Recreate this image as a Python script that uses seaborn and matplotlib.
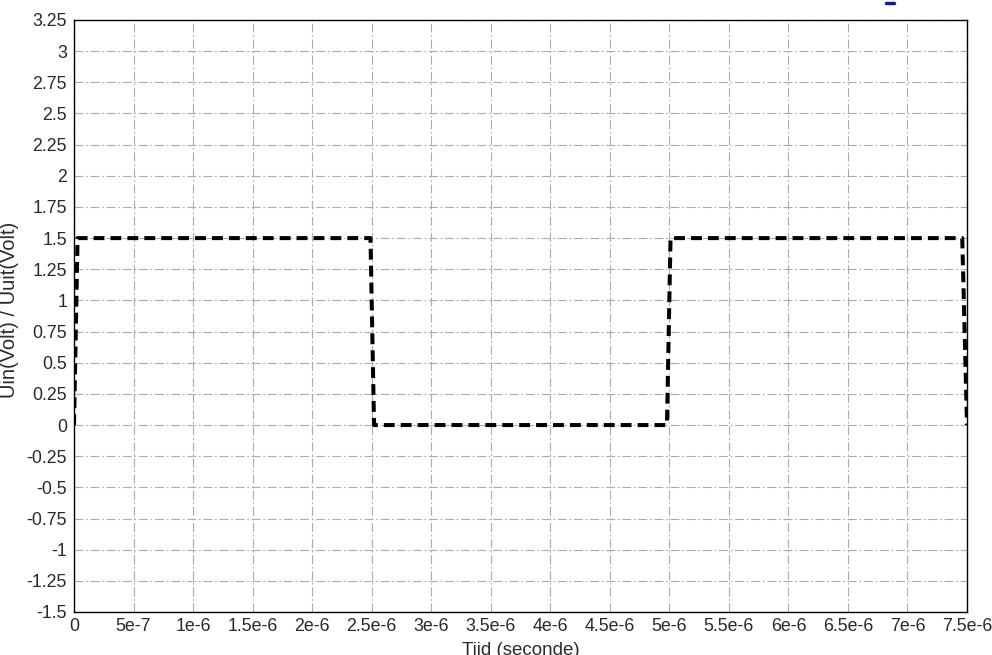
import numpy as np
import pandas as pd
import matplotlib
matplotlib.use("Agg")
import matplotlib.pyplot as plt
import seaborn as sns
from matplotlib.lines import Line2D

# square wave
tijd = [0, 0.03e-6, 2.49e-6, 2.52e-6, 4.98e-6, 5.01e-6, 7.46e-6, 7.5e-6]
spanning = [0, 1.5, 1.5, 0, 0, 1.5, 1.5, 0]

x_ticks = [0, 5e-7, 1e-6, 1.5e-6, 2e-6, 2.5e-6, 3e-6, 3.5e-6, 4e-6, 4.5e-6, 5e-6,
           5.5e-6, 6e-6, 6.5e-6, 7e-6, 7.5e-6]
x_labels = ["0", "5e-7", "1e-6", "1.5e-6", "2e-6", "2.5e-6", "3e-6", "3.5e-6", "4e-6",
            "4.5e-6", "5e-6", "5.5e-6", "6e-6", "6.5e-6", "7e-6", "7.5e-6"]
y_ticks = [-1.5, -1.25, -1, -0.75, -0.5, -0.25, 0, 0.25, 0.5, 0.75, 1, 1.25, 1.5,
           1.75, 2, 2.25, 2.5, 2.75, 3, 3.25]
y_labels = ["-1.5", "-1.25", "-1", "-0.75", "-0.5", "-0.25", "0", "0.25", "0.5", "0.75",
            "1", "1.25", "1.5", "1.75", "2", "2.25", "2.5", "2.75", "3", "3.25"]

df = pd.DataFrame({"t": tijd, "u": spanning})

sns.set_style("white")
plt.rcParams['font.family'] = ['Liberation Sans', 'DejaVu Sans']

fig = plt.figure(figsize=(9.92, 6.55), dpi=100)
ax = fig.add_axes([74/992, 1-612/655, 893/992, 592/655])

sns.lineplot(data=df, x="t", y="u", ax=ax, color="black", linewidth=2.9,
             dashes=False, sort=False)
ax.lines[0].set_dashes((2.7, 1.5))

ax.set_xlim(0, 7.5e-6)
ax.set_ylim(-1.5, 3.25)
ax.set_xticks(x_ticks)
ax.set_xticklabels(x_labels)
ax.set_yticks(y_ticks)
ax.set_yticklabels(y_labels)
ax.tick_params(direction="inout", length=8, width=0.8, color="#333333",
               labelsize=12.8, labelcolor="#2a2a2a")
ax.tick_params(axis="y", pad=1)
ax.tick_params(axis="x", pad=0)
ax.grid(True, color="#ababab", linestyle=(0, (8, 2.5, 1.5, 2.5)), linewidth=0.8)
for s in ax.spines.values():
    s.set_color("black")
    s.set_linewidth(1.0)

ax.set_xlabel("Tijd (seconde)", fontsize=13.5, color="#2a2a2a")
ax.xaxis.set_label_coords(0.5, -0.05)
ax.set_ylabel("Uin(Volt) / Uuit(Volt)", fontsize=14.5, color="#2a2a2a")
ax.yaxis.set_label_coords(-0.0615, 0.51)

# legend fragment peeking in at the top right
fig.add_artist(Line2D([886/992, 894/992], [1-3/655, 1-3/655], color="#1a1a8c",
                      linewidth=2.5, transform=fig.transFigure))

fig.savefig("out.png", dpi=100)
